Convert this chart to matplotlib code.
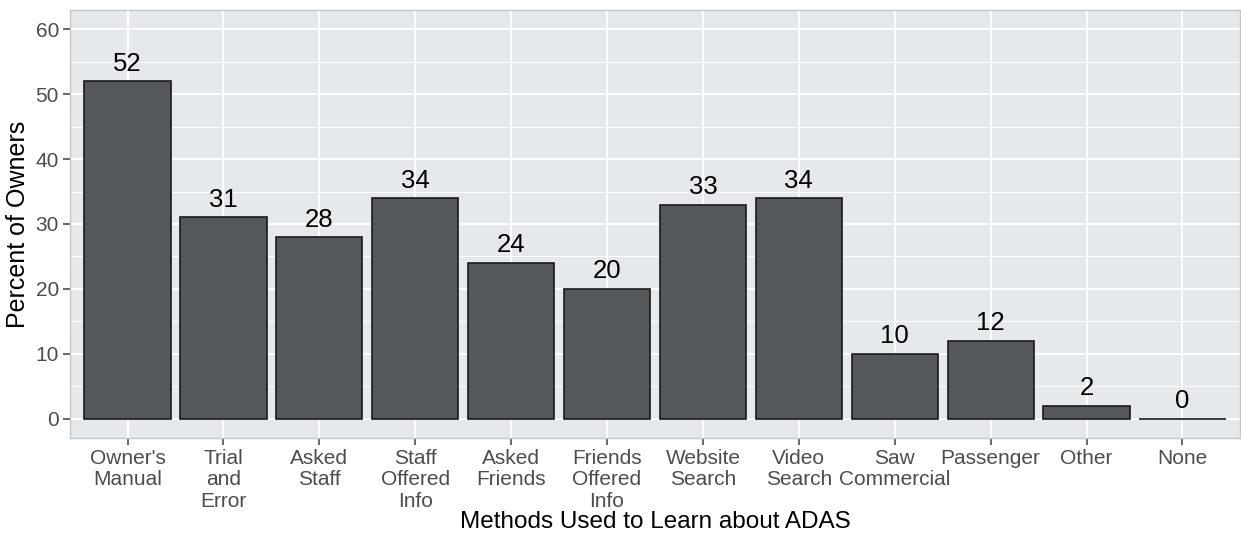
import matplotlib
matplotlib.use("Agg")
import matplotlib.pyplot as plt
from matplotlib.ticker import MultipleLocator

categories = ["Owner's\nManual", "Trial\nand\nError", "Asked\nStaff", "Staff\nOffered\nInfo",
              "Asked\nFriends", "Friends\nOffered\nInfo", "Website\nSearch", "Video\nSearch",
              "Saw\nCommercial", "Passenger", "Other", "None"]
percents = [52, 31, 28, 34, 24, 20, 33, 34, 10, 12, 2, 0]
y_ticks = [0, 10, 20, 30, 40, 50, 60]

plt.rcParams['font.family'] = ['Liberation Sans', 'DejaVu Sans']

fig = plt.figure(figsize=(12.41, 5.37), dpi=100)
ax = fig.add_axes([0.0564, 0.1844, 0.9428, 0.797])

x = list(range(1, len(categories) + 1))
ax.set_facecolor('#E6E9EC')
ax.bar(x, percents, width=0.9, color='#55585B', edgecolor='#1a1a1a', linewidth=1.2, zorder=3)
for xi, v in zip(x, percents):
    ax.annotate(str(v), (xi, v), xytext=(0, 7.5), textcoords='offset points',
                ha='center', va='baseline', fontsize=18.5, color='black', zorder=4)

ax.set_xlim(0.4, 12.6)
ax.set_ylim(-3, 63)
ax.set_yticks(y_ticks)
ax.yaxis.set_minor_locator(MultipleLocator(5))
ax.set_xticks(x)
ax.set_xticklabels(categories, fontsize=15, color='#4D4D4D', linespacing=1.15)
ax.tick_params(axis='y', labelsize=15, labelcolor='#4D4D4D')
ax.tick_params(axis='both', which='major', length=5, color='#4D4D4D', width=1.2, pad=3)
ax.tick_params(axis='y', which='minor', length=0)
ax.grid(True, which='major', color='white', linewidth=1.4, zorder=0)
ax.grid(True, which='minor', axis='y', color='white', linewidth=0.7, zorder=0)
ax.set_axisbelow(True)
for s in ax.spines.values():
    s.set_color('#C4C7CA')
    s.set_linewidth(1.0)

ax.set_xlabel('Methods Used to Learn about ADAS', fontsize=17.5, color='black', labelpad=0)
ax.set_ylabel('Percent of Owners', fontsize=18, color='black', labelpad=4)

fig.savefig('out.png', dpi=100)
